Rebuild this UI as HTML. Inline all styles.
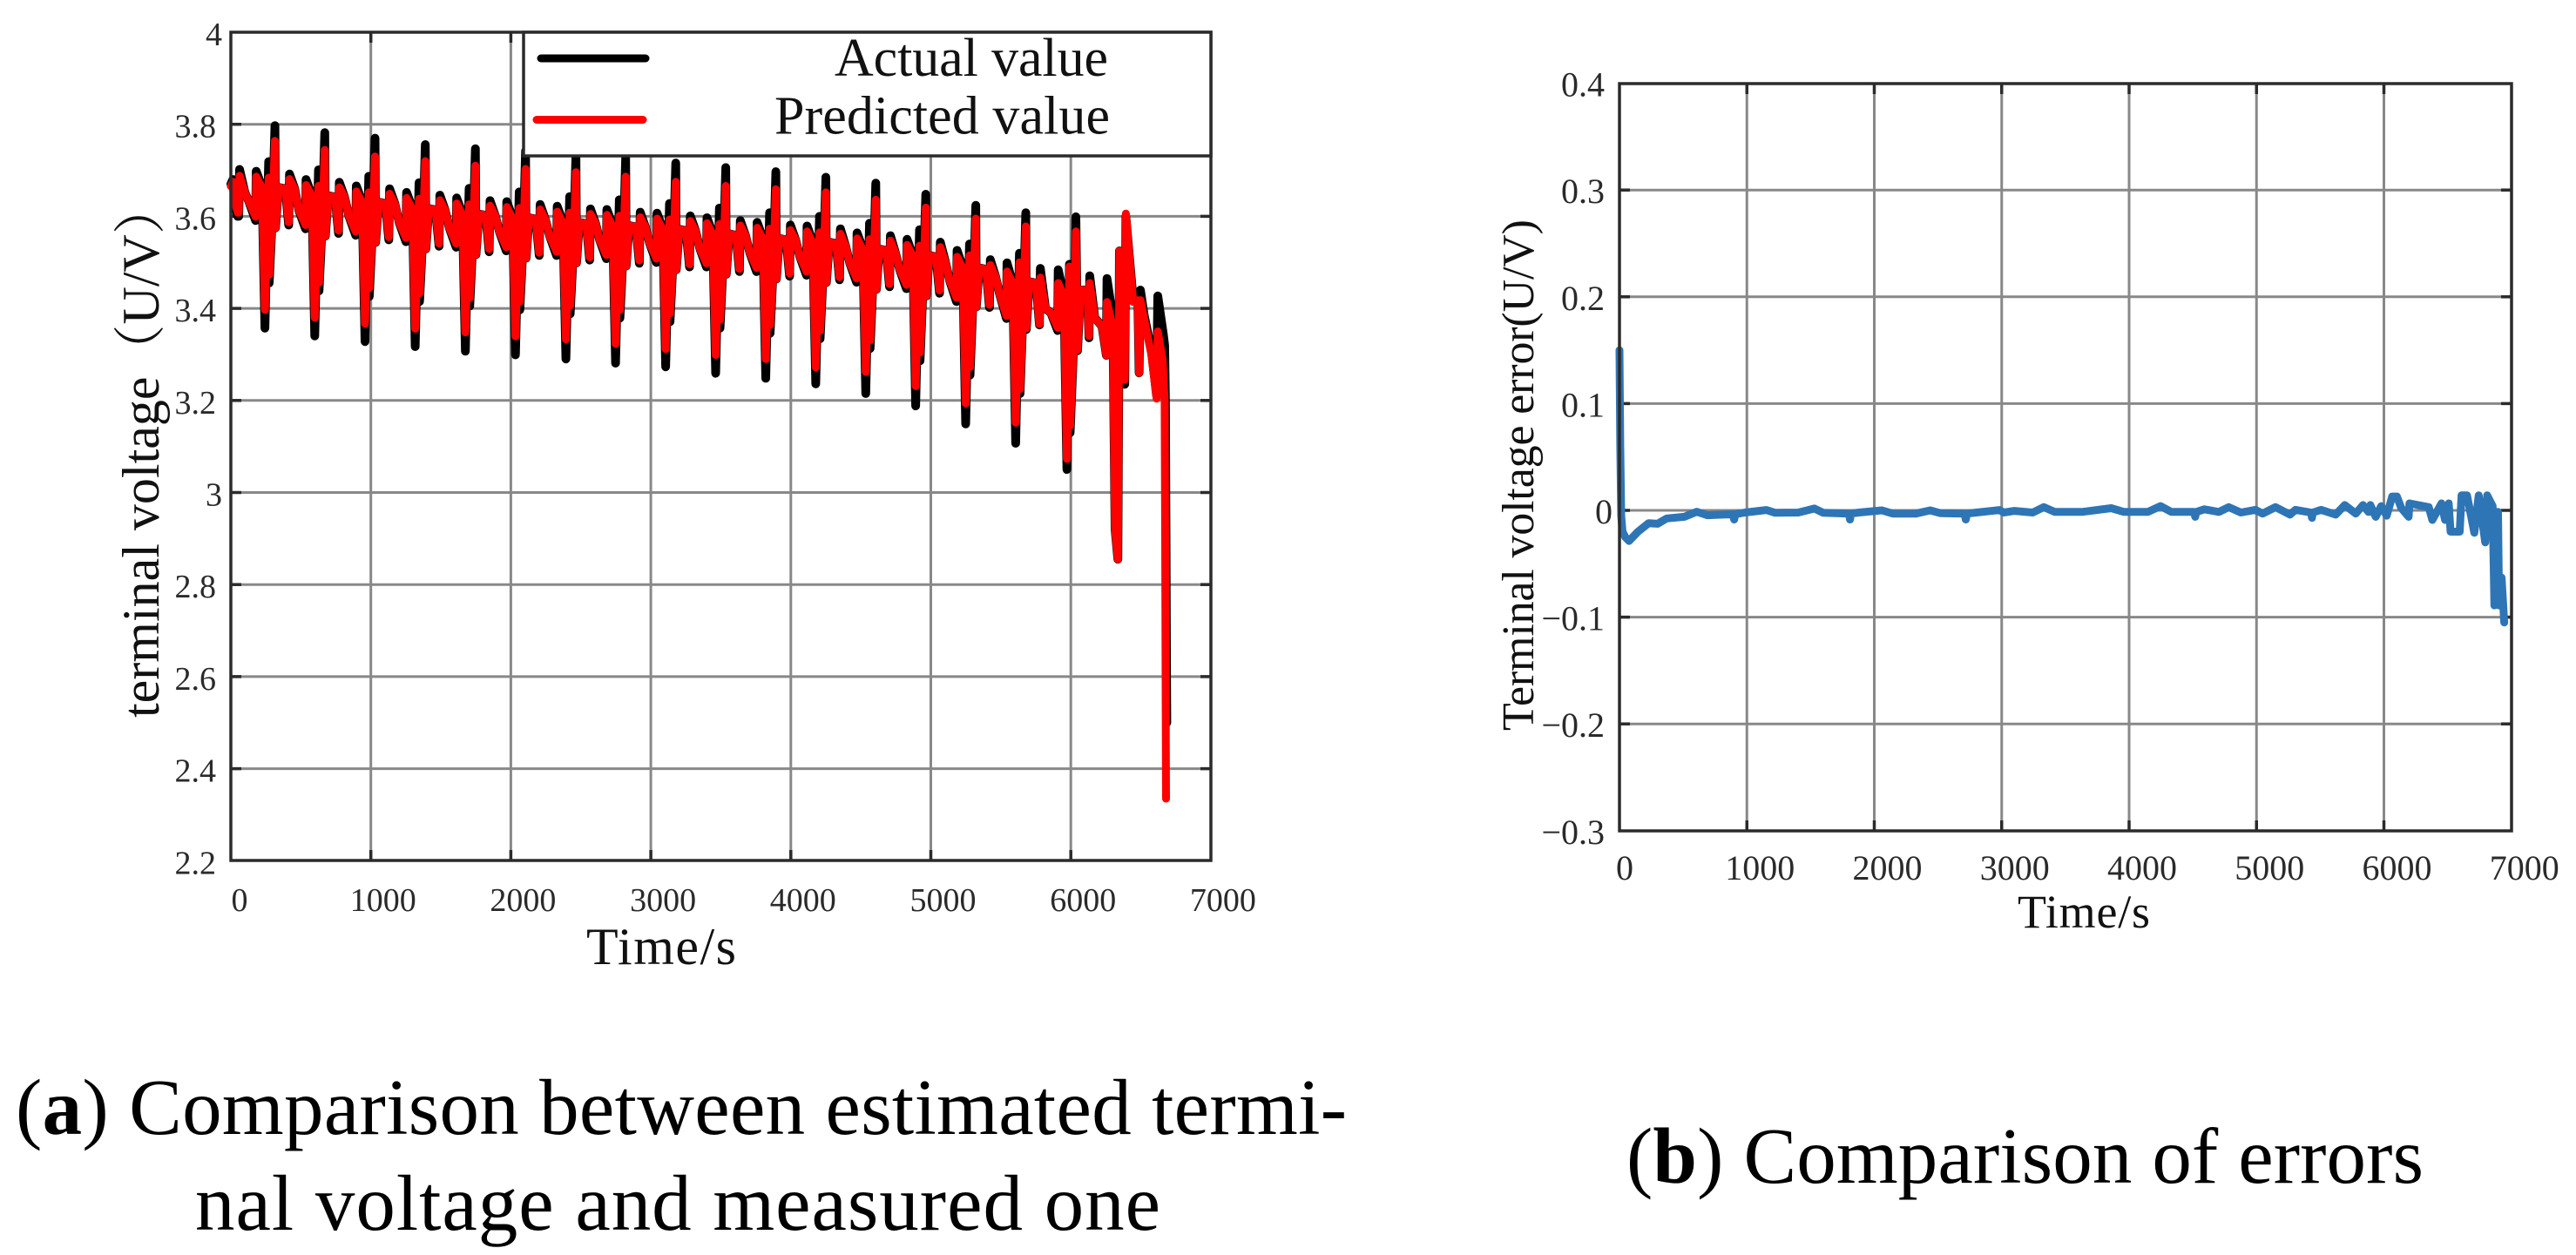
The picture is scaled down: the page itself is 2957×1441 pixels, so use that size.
<!DOCTYPE html>
<html lang="en">
<head>
<meta charset="utf-8">
<title>Terminal voltage estimation charts</title>
<style>
html,body{margin:0;padding:0;background:#fff;width:2957px;height:1441px;overflow:hidden}
svg{display:block;position:absolute;left:0;top:0}
text{font-family:"Liberation Serif","Noto Serif CJK SC",serif}
.tick{fill:#2a2a2a}
.title{fill:#111}
.cap{fill:#000;font-size:91px}
</style>
</head>
<body>
<svg id="fig" width="2957" height="1441" viewBox="0 0 2957 1441" xmlns="http://www.w3.org/2000/svg">
  <g id="plotA"></g>
  <g id="plotB"></g>

  <text class="title" transform="translate(182,824) rotate(-90)" font-size="60">terminal voltage（U/V）</text>
  <text class="title" x="673" y="1107" font-size="60" textLength="172" lengthAdjust="spacing">Time/s</text>

  <text class="title" transform="translate(1760,839) rotate(-90)" font-size="52" textLength="587" lengthAdjust="spacing">Terminal voltage error(U/V)</text>
  <text class="title" x="2316" y="1065" font-size="54" textLength="152" lengthAdjust="spacing">Time/s</text>

  <text class="cap" x="18" y="1302" textLength="1528" lengthAdjust="spacing">(<tspan font-weight="bold">a</tspan>) Comparison between estimated termi-</text>
  <text class="cap" x="224" y="1412" textLength="1108" lengthAdjust="spacing">nal voltage and measured one</text>
  <text class="cap" x="1867" y="1358" textLength="915" lengthAdjust="spacing">(<tspan font-weight="bold">b</tspan>) Comparison of errors</text>
</svg>

<script>
/* ---------- Chart (a): terminal voltage ---------- */
const voltageXTicks = [0,1000,2000,3000,4000,5000,6000,7000];
const voltageYTicks = [2.2,2.4,2.6,2.8,3,3.2,3.4,3.6,3.8,4];

const cycleTime = [
0,15,30,50,56,62,100,
129,177,181,222,243,270,274,295,315,319,340,388,413,419,456,
485,533,537,578,599,626,630,651,671,675,696,744,769,775,812,
844,892,896,937,958,985,989,1010,1030,1034,1055,1103,1128,1134,1171,
1203,1251,1255,1296,1317,1344,1348,1369,1389,1393,1414,1462,1487,1493,1530,
1561,1609,1613,1654,1675,1702,1706,1727,1747,1751,1772,1820,1845,1851,1888,
1919,1967,1971,2012,2033,2060,2064,2085,2105,2109,2130,2178,2203,2209,2246,
2279,2327,2331,2372,2393,2420,2424,2445,2465,2469,2490,2538,2563,2569,2606,
2634,2682,2686,2727,2748,2775,2779,2800,2820,2824,2845,2893,2918,2924,2961,
2992,3040,3044,3085,3106,3133,3137,3158,3178,3182,3203,3251,3276,3282,3319,
3349,3397,3401,3442,3463,3490,3494,3515,3535,3539,3560,3608,3633,3639,3676,
3707,3755,3759,3800,3821,3848,3852,3873,3893,3897,3918,3966,3991,3997,4034,
4064,4112,4116,4157,4178,4205,4209,4230,4250,4254,4275,4323,4348,4354,4391,
4421,4469,4473,4514,4535,4562,4566,4587,4607,4611,4632,4680,4705,4711,4748,
4778,4826,4830,4871,4892,4919,4923,4944,4964,4968,4989,5037,5062,5068,5105,
5135,5183,5187,5228,5249,5276,5280,5301,5321,5325,5346,5394,5419,5425,5462,
5492,5540,5544,5585,5606,5633,5637,5658,5678,5682,5703,5751,5776,5782,5819,
5858,5906,5910,5951,5972,5990,5995,6024,6036,6048,6069,6117,6130,6135
];
const actualTailTime = [6171,6223,6254,6258,6300,6316,6336,6347,6385,6393,6445,6478,6488,6497,6524,6575,6613,6621,6660,6670,6676,6680,6684,6686];
const predictedTailTime = [6171,6223,6254,6258,6300,6316,6336,6347,6385,6393,6445,6478,6488,6497,6524,6575,6613,6621,6655,6670,6674,6677,6680];

const actualVoltage = [
3.67,3.68,3.62,3.60,3.60,3.702,3.652,
3.632,3.591,3.698,3.664,3.357,3.719,3.455,3.591,3.797,3.575,3.663,3.660,3.581,3.692,3.660,
3.614,3.573,3.680,3.646,3.340,3.701,3.438,3.573,3.782,3.557,3.645,3.642,3.563,3.674,3.642,
3.600,3.559,3.666,3.632,3.328,3.687,3.426,3.559,3.770,3.543,3.631,3.628,3.549,3.660,3.628,
3.586,3.545,3.652,3.618,3.317,3.673,3.415,3.545,3.756,3.529,3.617,3.614,3.535,3.646,3.614,
3.574,3.533,3.640,3.606,3.307,3.661,3.405,3.533,3.747,3.517,3.605,3.602,3.523,3.634,3.602,
3.566,3.525,3.632,3.598,3.299,3.653,3.397,3.525,3.742,3.509,3.597,3.594,3.515,3.626,3.594,
3.556,3.515,3.622,3.588,3.290,3.643,3.388,3.515,3.735,3.499,3.587,3.584,3.505,3.616,3.584,
3.549,3.508,3.615,3.581,3.281,3.636,3.379,3.508,3.728,3.492,3.580,3.577,3.498,3.609,3.577,
3.541,3.500,3.607,3.573,3.273,3.628,3.371,3.500,3.716,3.484,3.572,3.569,3.490,3.601,3.569,
3.531,3.490,3.597,3.563,3.259,3.618,3.357,3.490,3.706,3.474,3.562,3.559,3.480,3.591,3.559,
3.521,3.480,3.587,3.553,3.248,3.608,3.346,3.480,3.697,3.464,3.552,3.549,3.470,3.581,3.549,
3.513,3.472,3.579,3.545,3.236,3.600,3.334,3.472,3.685,3.456,3.544,3.541,3.462,3.573,3.536,
3.498,3.457,3.564,3.530,3.215,3.585,3.313,3.457,3.672,3.441,3.529,3.526,3.447,3.558,3.520,
3.484,3.443,3.550,3.516,3.188,3.571,3.286,3.443,3.648,3.427,3.515,3.512,3.433,3.544,3.500,
3.460,3.415,3.526,3.490,3.149,3.540,3.255,3.415,3.624,3.403,3.488,3.485,3.402,3.506,3.470,
3.430,3.378,3.499,3.455,3.107,3.520,3.215,3.385,3.608,3.354,3.458,3.455,3.364,3.487,3.400,
3.390,3.352,3.484,3.427,3.050,3.496,3.130,3.350,3.599,3.308,3.440,3.440,3.336,3.471
];
const actualTail = [3.38,3.361,3.298,3.465,3.38,2.92,2.855,3.525,3.235,3.60,3.42,3.43,3.26,3.44,3.385,3.31,3.21,3.427,3.345,3.32,3.2,2.9,2.6,2.5];

const predictedVoltage = [
3.665,3.675,3.63,3.608,3.608,3.688,3.652,
3.632,3.599,3.686,3.662,3.397,3.684,3.473,3.591,3.764,3.575,3.663,3.660,3.587,3.681,3.660,
3.614,3.581,3.668,3.644,3.380,3.666,3.456,3.573,3.744,3.557,3.645,3.642,3.569,3.663,3.642,
3.600,3.567,3.654,3.630,3.367,3.652,3.444,3.559,3.730,3.543,3.631,3.628,3.555,3.649,3.628,
3.586,3.553,3.640,3.616,3.356,3.638,3.433,3.545,3.720,3.529,3.617,3.614,3.541,3.635,3.614,
3.574,3.541,3.628,3.604,3.348,3.626,3.423,3.533,3.710,3.517,3.605,3.602,3.529,3.623,3.602,
3.566,3.533,3.620,3.596,3.339,3.618,3.415,3.525,3.703,3.509,3.597,3.594,3.521,3.615,3.594,
3.556,3.523,3.610,3.586,3.333,3.608,3.406,3.515,3.696,3.499,3.587,3.584,3.511,3.605,3.584,
3.549,3.516,3.603,3.579,3.323,3.601,3.397,3.508,3.686,3.492,3.580,3.577,3.504,3.598,3.577,
3.541,3.508,3.595,3.571,3.312,3.593,3.389,3.500,3.675,3.484,3.572,3.569,3.496,3.590,3.569,
3.531,3.498,3.585,3.561,3.299,3.583,3.375,3.490,3.666,3.474,3.562,3.559,3.486,3.580,3.559,
3.521,3.488,3.575,3.551,3.290,3.573,3.364,3.480,3.659,3.464,3.552,3.549,3.476,3.570,3.549,
3.513,3.480,3.567,3.543,3.272,3.565,3.352,3.472,3.652,3.456,3.544,3.541,3.468,3.562,3.536,
3.498,3.465,3.552,3.528,3.262,3.550,3.331,3.457,3.636,3.441,3.529,3.526,3.453,3.547,3.520,
3.484,3.451,3.538,3.514,3.231,3.536,3.304,3.443,3.619,3.427,3.515,3.512,3.439,3.533,3.500,
3.460,3.423,3.512,3.488,3.194,3.515,3.273,3.415,3.595,3.403,3.488,3.485,3.408,3.494,3.470,
3.430,3.384,3.480,3.455,3.152,3.500,3.225,3.385,3.578,3.357,3.458,3.455,3.366,3.467,3.400,
3.390,3.358,3.455,3.427,3.073,3.491,3.145,3.350,3.567,3.310,3.440,3.440,3.340,3.455
];
const predictedTail = [3.38,3.361,3.298,3.414,3.36,2.92,2.855,3.525,3.245,3.606,3.414,3.418,3.26,3.418,3.377,3.30,3.204,3.35,3.289,3.2,2.9,2.6,2.335];

/* ---------- Chart (b): voltage error ---------- */
const errorXTicks = [0,1000,2000,3000,4000,5000,6000,7000];
const errorYTicks = [-0.3,-0.2,-0.1,0,0.1,0.2,0.3,0.4];

const errorTime = [
0,6,14,24,45,75,145,229,300,370,509,607,690,890,900,910,984,1152,1222,1404,1530,1600,1800,1809,1818,1879,2060,2145,2327,2439,2522,2708,2718,2728,2802,2983,
3015,3100,3244,3330,3416,3630,3860,3960,4146,4247,4332,4510,4519,4528,4590,4705,4782,4877,4991,5048,5149,5263,5306,5428,5435,5442,5507,5621,5693,5779,5836,5879,5893,5936,5979,6022,6065,6102,6137,6194,6200,6352,6380,6452,6480,6509,6523,6595,6609,6652,6710,6744,6795,6810,6853,6867,6896,6904,6924,6944
];
const errorValue = [
0.15,0.06,-0.005,-0.02,-0.025,-0.0286,-0.02,-0.012,-0.0126,-0.0076,-0.006,-0.0013,-0.0046,-0.0036,-0.0086,-0.0036,-0.002,0.0003,-0.0023,-0.002,0.0017,-0.0023,-0.003,-0.0086,-0.003,-0.002,0,-0.003,-0.003,0,-0.0027,-0.003,-0.0086,-0.003,-0.002,0.0003,
-0.002,-0.0005,-0.002,0.003,-0.0015,-0.0015,0.002,-0.0015,-0.0015,0.004,-0.0015,-0.0015,-0.006,-0.0015,0.001,-0.0015,0.003,-0.002,0.0005,-0.003,0.003,-0.004,0.0005,-0.002,-0.007,-0.002,0.0005,-0.004,0.005,-0.003,0.005,-0.0015,0.005,-0.006,0.004,-0.005,0.013,0.013,0.002,-0.006,0.0065,0.003,-0.009,0.0065,-0.009,0.0065,-0.02,-0.02,0.014,0.014,-0.021,0.014,-0.03,0.014,0.004,-0.089,-0.0015,-0.089,-0.063,-0.105
];

/* ---------- Axis functions ---------- */
const voltageX = t => 265 + t * 0.1607;
const voltageY = v => 37 + (4 - v) * 528.5;
const errorX = t => 1859 + t * 0.14625;
const errorY = v => 586 - v * 1226;

const NS = 'http://www.w3.org/2000/svg';
function mk(tag, parent, attrs) {
  const node = document.createElementNS(NS, tag);
  for (const k in attrs) node.setAttribute(k, attrs[k]);
  parent.appendChild(node);
  return node;
}
function pathFrom(xs, ys, sx, sy) {
  return xs.map((x, i) => (i ? 'L' : 'M') + sx(x).toFixed(1) + ' ' + sy(ys[i]).toFixed(1)).join('');
}

const GRID = '#888888';
const FRAME = '#2b2b2b';

function drawAxes(group, box, xTicks, yTicks, sx, sy) {
  yTicks.forEach(v => {
    const y = sy(v);
    if (y > box.top + 1 && y < box.bottom - 1) {
      const g = mk('line', group, {x1: box.left, x2: box.right, y1: y, y2: y, stroke: GRID, 'stroke-width': box.grid});
      
      
      const tl = mk('line', group, {x1: box.left, x2: box.left + 12, y1: y, y2: y, stroke: FRAME, 'stroke-width': 3.5});
      
      
      const tr = mk('line', group, {x1: box.right - 12, x2: box.right, y1: y, y2: y, stroke: FRAME, 'stroke-width': 3.5});
      
      
    }
  });
  xTicks.forEach(t => {
    const x = sx(t);
    if (x > box.left + 1 && x < box.right - 1) {
      const g = mk('line', group, {x1: x, x2: x, y1: box.top, y2: box.bottom, stroke: GRID, 'stroke-width': box.grid});
      
      
      const tb = mk('line', group, {x1: x, x2: x, y1: box.bottom - 12, y2: box.bottom, stroke: FRAME, 'stroke-width': 3.5});
      
      
      const tt = mk('line', group, {x1: x, x2: x, y1: box.top, y2: box.top + 12, stroke: FRAME, 'stroke-width': 3.5});
      
      
    }
  });
}
function drawLabels(group, box, xTicks, yTicks, sx, sy) {
  xTicks.forEach(t => {
    const lab = mk('text', group, {class: 'tick', x: sx(t) + (t === 0 ? box.zeroDx : box.xDx), y: box.xBase, 'text-anchor': 'middle', 'font-size': box.font});
    
    
    lab.textContent = String(t);
  });
  yTicks.forEach(v => {
    const whole = Number.isInteger(v) && v >= 0;
    const lab = mk('text', group, {class: 'tick', x: whole ? box.yRightWhole : box.yRight, y: sy(v) + 15, 'text-anchor': 'end', 'font-size': box.font});
    
    
    lab.textContent = String(v).replace('-', '\u2212');
  });
}
function drawFrame(group, box) {
  const f = mk('rect', group, {x: box.left, y: box.top, width: box.right - box.left, height: box.bottom - box.top, fill: 'none', stroke: FRAME, 'stroke-width': 3.5});
  
  
}

/* Chart (a) */
const plotA = document.getElementById('plotA');
const boxA = {left: 265, right: 1390, top: 37, bottom: 988, grid: 3, font: 38, xDx: 14, zeroDx: 10, xBase: 1046, yRight: 248, yRightWhole: 255};
drawAxes(plotA, boxA, voltageXTicks, voltageYTicks, voltageX, voltageY);

const actualLine = mk('path', plotA, {
  d: pathFrom(cycleTime.concat(actualTailTime), actualVoltage.concat(actualTail), voltageX, voltageY),
  fill: 'none', stroke: '#000000', 'stroke-width': 10, 'stroke-linejoin': 'round', 'stroke-linecap': 'round'
});



const predictedLine = mk('path', plotA, {
  d: pathFrom(cycleTime.concat(predictedTailTime), predictedVoltage.concat(predictedTail), voltageX, voltageY),
  fill: 'none', stroke: '#ff0000', 'stroke-width': 9, 'stroke-linejoin': 'round', 'stroke-linecap': 'round'
});



drawFrame(plotA, boxA);
drawLabels(plotA, boxA, voltageXTicks, voltageYTicks, voltageX, voltageY);

/* Legend */
const legend = mk('g', plotA, {});


const legendBox = mk('rect', legend, {x: 601, y: 37, width: 789, height: 142, fill: '#fff', stroke: FRAME, 'stroke-width': 3.5});


const legendBlack = mk('line', legend, {x1: 621, x2: 741, y1: 67, y2: 67, stroke: '#000', 'stroke-width': 9, 'stroke-linecap': 'round'});


const legendRed = mk('line', legend, {x1: 616, x2: 738, y1: 137.5, y2: 137.5, stroke: '#ff0000', 'stroke-width': 9, 'stroke-linecap': 'round'});


const legendA = mk('text', legend, {class: 'title', x: 958, y: 87, 'font-size': 62, textLength: 314, lengthAdjust: 'spacing'});


legendA.textContent = 'Actual value';
const legendP = mk('text', legend, {class: 'title', x: 889, y: 153.5, 'font-size': 62, textLength: 385, lengthAdjust: 'spacing'});


legendP.textContent = 'Predicted value';

/* Chart (b) */
const plotB = document.getElementById('plotB');
const boxB = {left: 1859, right: 2883, top: 96, bottom: 954, grid: 3, font: 40, xDx: 15, zeroDx: 6, xBase: 1010, yRight: 1842, yRightWhole: 1851};
drawAxes(plotB, boxB, errorXTicks, errorYTicks, errorX, errorY);

const errorLine = mk('path', plotB, {
  d: pathFrom(errorTime, errorValue, errorX, errorY),
  fill: 'none', stroke: '#2e75b6', 'stroke-width': 9, 'stroke-linejoin': 'round', 'stroke-linecap': 'round'
});



drawFrame(plotB, boxB);
drawLabels(plotB, boxB, errorXTicks, errorYTicks, errorX, errorY);
</script>
</body>
</html>
